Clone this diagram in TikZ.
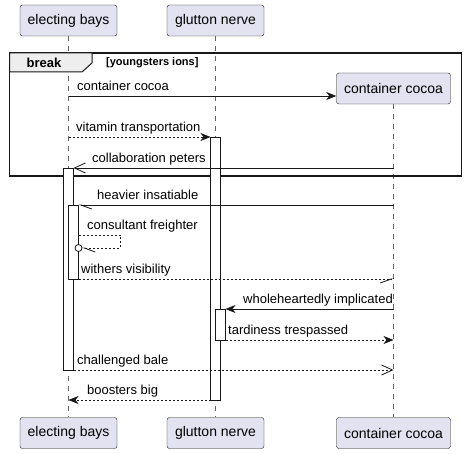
\documentclass[tikz,border=0pt]{standalone}
\usepackage{fontspec}
\setmainfont{Liberation Sans}
\usepackage{tikz}
\usetikzlibrary{arrows.meta}
\usetikzlibrary{positioning}
\tikzset{>=Stealth}
\usepackage{xcolor}
\definecolor{partfill}{HTML}{E2E2F0}
\definecolor{partline}{HTML}{181818}
\definecolor{tabfill}{HTML}{EEEEEE}
\tikzstyle{participant}=[draw=partline,fill=partfill,rounded corners=2.5,minimum height=31,inner xsep=0,font=\fontsize{14}{16}\selectfont]
\tikzstyle{lifeline}=[draw=gray!80!black,line width=0.6,dash pattern=on 5 off 5]
\tikzstyle{actbox}=[draw=partline,fill=white,line width=0.8]
\tikzstyle{msg}=[draw=partline,line width=0.8]
\tikzstyle{reply}=[msg,dash pattern=on 2 off 2]
\tikzstyle{full}=[-{Stealth[length=10,width=8,inset=3]}]
\tikzstyle{open}=[-{Straight Barb[length=11,width=10]}]
\tikzstyle{halfl}=[-{Straight Barb[left,length=11,width=8]}]
\tikzstyle{halfr}=[-{Straight Barb[right,length=11,width=8]}]
\tikzstyle{lbl}=[anchor=base west,inner sep=0,font=\fontsize{13}{15}\selectfont]

\begin{document}
\begin{tikzpicture}[x=1pt,y=-1pt]
  \useasboundingbox[fill=white] (0,0) rectangle (466,454);
  \def\xEB{68.5}
  \def\xGN{215.5}
  \def\xCC{393.5}

  % participants
  \node[participant,minimum width=97] (ebTop) at (\xEB,20.5) {electing bays};
  \node[participant,minimum width=97] (gnTop) at (\xGN,20.5) {glutton nerve};
  \node[participant,minimum width=114] (ccTop) at (\xCC,88.5) {container cocoa};
  \node[participant,minimum width=97] (ebBot) at (\xEB,433) {electing bays};
  \node[participant,minimum width=97] (gnBot) at (\xGN,433) {glutton nerve};
  \node[participant,minimum width=114] (ccBot) at (\xCC,433) {container cocoa};

  \draw[lifeline] (ebTop) -- (ebBot);
  \draw[lifeline] (gnTop) -- (gnBot);
  \draw[lifeline] (ccTop) -- (ccBot);

  % break frame
  \draw[line width=1.5,draw=partline] (9.5,53) rectangle (461.5,176);
  \draw[fill=tabfill,line width=1,draw=partline] (9.5,53) -- (92,53) -- (92,63) -- (82,72) -- (9.5,72) -- cycle;
  \node[font=\fontsize{13}{15}\selectfont\bfseries] (brk) at (44,62.5) {break};
  \node[anchor=west,inner sep=0,font=\fontsize{11}{13}\selectfont\bfseries] (grd) at (106,62.5) {[youngsters ions]};

  % activations
  \draw[actbox] (\xGN-5,137) rectangle (\xGN+5,400);
  \draw[actbox] (\xEB-5,168) rectangle (\xEB+5,370);
  \draw[actbox] (\xEB,205) rectangle (\xEB+10,279);
  \draw[actbox] (\xGN,309) rectangle (\xGN+10,340);

  % message ends
  \coordinate (m1) at (\xEB,96);
  \coordinate (m2a) at (\xEB,137);     \coordinate (m2b) at (\xGN-5,137);
  \coordinate (m3a) at (\xCC,168);     \coordinate (m3b) at (\xEB+5,168);
  \coordinate (m4a) at (\xCC,205);     \coordinate (m4b) at (\xEB+10,205);
  \coordinate (m5a) at (\xEB+10,235);  \coordinate (m5c) at (120,248);
  \coordinate (m5o) at (\xEB+10,248);  \coordinate (m5b) at (\xEB+13.5,248);
  \coordinate (m6a) at (\xEB+10,279);  \coordinate (m6b) at (\xCC,279);
  \coordinate (m7a) at (\xCC,309);     \coordinate (m7b) at (\xGN+10,309);
  \coordinate (m8a) at (\xGN+10,340);  \coordinate (m8b) at (\xCC,340);
  \coordinate (m9a) at (\xEB+5,370);   \coordinate (m9b) at (\xCC,370);
  \coordinate (m10a) at (\xGN-5,400);  \coordinate (m10b) at (\xEB,400);

  \draw[msg,full] (m1) -- (ccTop.west |- m1);
  \node[lbl] at (77,90.5) {container cocoa};
  \draw[reply,full] (m2a) -- (m2b);
  \node[lbl] at (76,131.5) {vitamin transportation};
  \draw[msg,open] (m3a) -- (m3b);
  \node[lbl] at (92,162.5) {collaboration peters};
  \draw[msg,halfl] (m4a) -- (m4b);
  \node[lbl] at (97,199.5) {heavier insatiable};
  \draw[reply,halfl] (m5a) -| (m5c) -- (m5b);
  \draw[msg,fill=white] (m5o) circle[radius=3.5];
  \node[lbl] at (87,229.5) {consultant freighter};
  \draw[reply,halfr] (m6a) -- (m6b);
  \node[lbl] at (81,273.5) {withers visibility};
  \draw[msg,full] (m7a) -- (m7b);
  \node[lbl] at (243,303.5) {wholeheartedly implicated};
  \draw[reply,full] (m8a) -- (m8b);
  \node[lbl] at (228,334.5) {tardiness trespassed};
  \draw[reply,open] (m9a) -- (m9b);
  \node[lbl] at (77,364.5) {challenged bale};
  \draw[reply,full] (m10a) -- (m10b);
  \node[lbl] at (87,394.5) {boosters big};
\end{tikzpicture}
\end{document}
